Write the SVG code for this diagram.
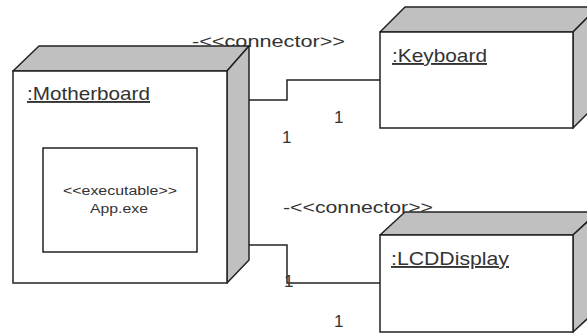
<svg xmlns="http://www.w3.org/2000/svg" width="587" height="334" viewBox="0 0 587 334">
<style>
.face{fill:#ffffff;stroke:#222;stroke-width:1.5}
.shade{fill:#c0c0c0;stroke:#222;stroke-width:1.5;stroke-linejoin:round}
.t{font-family:"Liberation Sans",Arial,sans-serif;fill:#333}
.name{font-size:19px;text-decoration:underline}
.lbl{font-size:17px}
.small{font-size:12px}
.conn{fill:none;stroke:#222;stroke-width:1.5}
</style>
<rect width="587" height="334" fill="#ffffff"/>
<g id="connectors">
<polyline class="conn" points="249,100 287,100 287,80 380,80"/>
<polyline class="conn" points="249,245 287,245 287,283 380,283"/>
<text class="t lbl" x="192" y="47" textLength="153" lengthAdjust="spacingAndGlyphs">-&lt;&lt;connector&gt;&gt;</text>
<text class="t lbl" x="283" y="213" textLength="150" lengthAdjust="spacingAndGlyphs">-&lt;&lt;connector&gt;&gt;</text>
<text class="t lbl" x="334" y="123">1</text>
<text class="t lbl" x="282" y="143">1</text>
<text class="t lbl" x="284" y="287">1</text>
<text class="t lbl" x="334" y="327">1</text>
</g>
<g id="motherboard">
<polygon class="shade" points="13,71 39,46 249,46 227,71"/>
<polygon class="shade" points="227,71 249,46 249,260 227,283"/>
<rect class="face" x="13" y="71" width="214" height="212"/>
<text class="t name" x="27" y="100" textLength="123" lengthAdjust="spacingAndGlyphs">:Motherboard</text>
<g id="app">
<rect class="face" x="43" y="148" width="154" height="104"/>
<text class="t small" x="63" y="195" textLength="114" lengthAdjust="spacingAndGlyphs">&lt;&lt;executable&gt;&gt;</text>
<text class="t small" x="90" y="213" textLength="58" lengthAdjust="spacingAndGlyphs">App.exe</text>
</g>
</g>
<g id="keyboard">
<polygon class="shade" points="380,32 405,7 598,7 573,32"/>
<polygon class="shade" points="573,32 598,7 598,103 573,128"/>
<rect class="face" x="380" y="32" width="193" height="96"/>
<text class="t name" x="392" y="62" textLength="95" lengthAdjust="spacingAndGlyphs">:Keyboard</text>
</g>
<g id="lcddisplay">
<polygon class="shade" points="380,235 405,212 598,212 573,235"/>
<polygon class="shade" points="573,235 598,212 598,309 573,332"/>
<rect class="face" x="380" y="235" width="193" height="97"/>
<text class="t name" x="391" y="265" textLength="118" lengthAdjust="spacingAndGlyphs">:LCDDisplay</text>
</g>
</svg>
